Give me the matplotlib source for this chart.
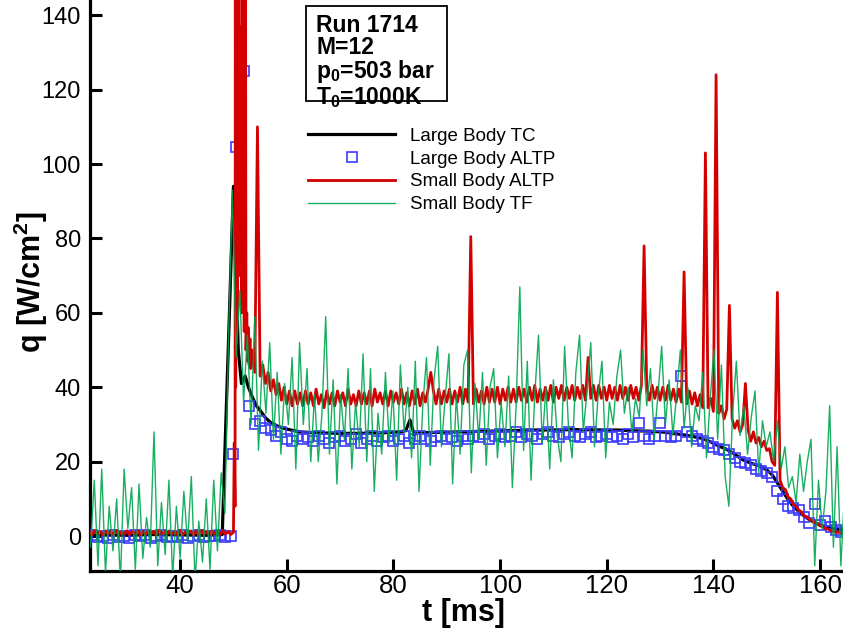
import numpy as np
import matplotlib
matplotlib.use("Agg")
import matplotlib.pyplot as plt
from matplotlib.patches import Rectangle

plt.rcParams['font.family'] = ['Liberation Sans', 'DejaVu Sans']
plt.rcParams['mathtext.fontset'] = 'custom'
plt.rcParams['mathtext.rm'] = 'Liberation Sans'
plt.rcParams['mathtext.bf'] = 'Liberation Sans:bold'
plt.rcParams['mathtext.it'] = 'Liberation Sans:italic'

# ---------------- data ----------------
labels = ["Large Body TC", "Large Body ALTP", "Small Body ALTP", "Small Body TF"]
info_lines = ["Run 1714", "M=12", r"p$_{\mathbf{0}}$=503 bar", r"T$_{\mathbf{0}}$=1000K"]
x_ticks = [40, 60, 80, 100, 120, 140, 160]
y_ticks = [0, 20, 40, 60, 80, 100, 120, 140]

# Large Body TC (time ms, q W/cm^2)
black_tc = [(23, 0.3), (30, 0.2), (35, 0.4), (40, 0.3), (45, 0.2), (47.9, 0.4), (48.4, 23),
            (49.2, 58), (50.0, 94), (50.3, 80), (50.9, 50), (51.5, 41), (52.2, 43), (52.8, 40),
            (53.5, 37.5), (54.3, 35), (55.0, 33.8), (56.0, 31.8), (57.0, 30.5), (58.2, 29.6),
            (59.3, 29), (60.8, 28.5), (62.5, 28), (65, 27.8), (67, 27.7), (70, 27.6), (73, 27.6),
            (76, 27.7), (79, 27.8), (81, 28), (82.3, 28.3), (83.1, 31.2), (83.9, 27.2), (84.6, 27.9),
            (86, 27.8), (89, 27.9), (92, 28), (95, 28.1), (98, 28.2), (101, 28.3), (104, 28.4),
            (107, 28.5), (110, 28.5), (113, 28.6), (116, 28.6), (119, 28.5), (122, 28.5), (125, 28.3),
            (128, 28.2), (131, 27.9), (134, 27.3), (136, 26.8), (138, 26.2), (139.5, 25.3), (141, 24.2),
            (142.5, 23.3), (144, 22), (145.5, 20.5), (147, 19.6), (148.5, 18.9), (150, 17.8),
            (151, 16.5), (152, 14.3), (153, 12), (154, 9.8), (155, 8), (156, 6.6), (157, 5.4),
            (158, 4.4), (159, 3.6), (160, 3.0), (161, 2.5), (162, 2.2), (163, 1.9), (164, 1.7),
            (165, 1.6)]

# Large Body ALTP (squares)
blue_t = np.concatenate([np.arange(23.5, 50.0, 1.0), [50.0, 50.4, 51.9, 53.0], np.arange(54.0, 164.5, 1.0)])
blue_q = [0.2, -0.3, 0.1, -0.5, 0.3, -0.2, 0.0, -0.4, 0.2, -0.1,
          0.3, -0.5, 0.0, 0.2, -0.3, 0.1, -0.2, 0.4, -0.4, 0.0,
          0.2, -0.3, 0.1, -0.1, 0.3, -0.2, 0.0,
          22, 104.6, 125, 35,
          30, 31, 29, 28.5, 27, 28, 26, 25.5, 27, 26,
          26.5, 25.5, 27, 26, 25, 26.5, 27, 25.5, 26, 27.5,
          25, 26, 27, 25.5, 26.5, 27, 25.5, 26, 27, 25,
          26, 27, 26, 25.5, 26.5, 27, 26, 26.5, 25.5, 27,
          26, 27, 26.5, 27.5, 26, 27, 27.5, 26.5, 27, 28,
          26.5, 27.5, 27, 26, 27.5, 28, 27, 26.5, 27.5, 28,
          27, 26.5, 27.5, 28, 26.5, 27, 27.5, 26.5, 27, 26,
          27.5, 26.5, 30.5, 27, 26, 27, 30.5, 27, 26.5, 27,
          43, 28, 27, 26, 25.5, 25, 24, 23.5, 23, 22,
          21, 20, 19.5, 19, 18, 17.5, 17, 16, 12, 10,
          8, 7.5, 7, 5, 3.5, 8.5, 3, 4, 2.5, 1.5, 1.2]

# Small Body ALTP
red_pre_t = np.arange(23.0, 50.01, 0.5)
red_pre_q = [1.3, 0.4, 1.5, 0.5, 1.2, 0.3, 1.4, 0.6, 1.3, 0.4,
             1.5, 0.3, 1.2, 0.5, 1.4, 0.4, 1.3, 0.6, 1.5, 0.3,
             1.2, 0.4, 1.4, 0.5, 1.3, 0.3, 1.5, 0.6, 1.2, 0.4,
             1.4, 0.5, 1.3, 0.3, 1.5, 0.4, 1.2, 0.6, 1.4, 0.3,
             1.3, 0.5, 1.5, 0.4, 1.2, 0.3, 1.4, 0.6, 1.3, 0.4,
             1.5, 0.5, 1.2, 0.4, 1.0]
red_burst = [(50.15, 25), (50.3, 8), (50.35, 150), (50.42, 40), (50.5, 155), (50.58, 55), (50.66, 160),
             (50.74, 60), (50.82, 160), (50.9, 75), (50.98, 160), (51.06, 90), (51.14, 137), (51.22, 70),
             (51.3, 137), (51.38, 80), (51.46, 137), (51.54, 60), (51.62, 160), (51.7, 80), (51.78, 160),
             (51.86, 60), (51.94, 160), (52.02, 55), (52.1, 160), (52.18, 55), (52.26, 150), (52.35, 50),
             (52.5, 60), (52.65, 47), (52.8, 56), (52.95, 46), (53.1, 53), (53.25, 45)]
red_post_t = np.arange(53.5, 165.01, 0.5)
red_post_q = [50, 44, 110, 43, 46, 41, 44, 39, 42, 38,
              41, 36.5, 40, 35.5, 39, 35, 39, 35.5, 38.5, 35,
              39, 35.5, 38.5, 35, 39.5, 35.5, 38, 34.5, 39, 35.5,
              38.5, 35, 39, 36, 38.5, 35, 39.5, 35.5, 38, 35,
              39, 35.5, 38.5, 35.5, 39, 35, 39.5, 36, 38.5, 35.5,
              39, 35, 39, 36, 38.5, 35.5, 39.5, 35.5, 38.5, 35,
              39, 35.5, 39.5, 35, 38.5, 36, 39.5, 44, 39, 35.5,
              39.5, 35.5, 39, 36, 39.5, 35.5, 39, 36, 40, 35.5,
              39.5, 36, 80.5, 35.5, 39.5, 36, 39, 35.5, 40, 36,
              39.5, 36, 40, 35.5, 39.5, 36.5, 40, 36, 39.5, 36,
              40, 36.5, 39.5, 36, 40, 36.5, 40.5, 36, 39.5, 36.5,
              40, 36.5, 40.5, 36, 40, 37, 40.5, 36.5, 40, 37,
              40.5, 36.5, 40, 37, 40.5, 36.5, 48, 37, 40.5, 36.5,
              40.5, 37, 40, 36.5, 40.5, 37, 40, 36.5, 40.5, 37,
              40, 36.5, 40.5, 37, 40, 36.5, 40.5, 78, 40, 36.5,
              40.5, 37, 40, 36.5, 40, 36.5, 40.5, 36.5, 39.5, 36,
              39.5, 36, 71, 35.5, 39, 35.5, 38.5, 35, 38, 34.5,
              103, 34.5, 37, 33.5, 124, 33, 35, 31.5, 34, 62,
              31.5, 29, 31, 28, 30, 41, 28.5, 25.5, 28, 25,
              26.5, 24, 25.5, 23, 23.5, 20, 19, 65.5, 15, 13,
              12.5, 10.5, 10, 8.5, 8, 7, 6.5, 5.5, 5.2, 4.5,
              4.2, 3.6, 3.3, 2.7, 2.5, 2.0, 1.9, 1.4, 1.4, 1.0,
              1.0, 0.7, 0.8, 0.6]

# Small Body TF
green_t = np.arange(23.2, 164.7, 0.7)
green_q = [-3, 15, -8, 18, -10, 8, -4, 10, -12, 18,
           2, 13, -9, 14, -6, 5, -3, 28, -8, 9,
           -5, 15, -11, 8, -6, 12, -2, 16, -12, 4,
           -7, 10, -9, 15, -4, 17, 6, 55, 93, 48,
           66, 36, 54, 30, 59, 23, 47, 33, 52, 26,
           44, 22, 41, 30, 48, 18, 52, 30, 45, 20,
           38, 20, 33, 59, 22, 42, 14, 38, 26, 45,
           18, 36, 24, 49, 20, 45, 12, 33, 22, 44,
           25, 39, 15, 46, 28, 40, 21, 47, 12, 35,
           48, 19, 42, 51, 24, 37, 49, 14, 38, 22,
           46, 50, 17, 41, 26, 44, 19, 40, 45, 21,
           36, 24, 43, 13, 35, 67, 23, 47, 15, 38,
           54, 25, 40, 18, 42, 27, 20, 51, 30, 21,
           44, 54, 28, 39, 52, 24, 38, 47, 21, 36,
           30, 43, 50, 33, 40, 28, 37, 32, 50, 35,
           45, 26, 38, 51, 30, 42, 27, 38, 50, 29,
           40, 24, 35, 31, 44, 21, 37, 50, 26, 46,
           16, 8, 33, 47, 27, 35, 22, 32, 39, 17,
           31, 24, 28, 20, 31, 18, 24, 13, 16, 9,
           22, 12, 20, 26, -8, 15, 2, 12, 35, -3,
           24, -8, 12]

# ---------------- figure ----------------
W, H = 843, 636
fig = plt.figure(figsize=(W / 100, H / 100), dpi=100)
ax = fig.add_axes([90 / W, 65 / H, (W - 90) / W, 571 / H])

bt, bq = zip(*black_tc)
l1, = ax.plot(bt, bq, color='black', lw=2.3, zorder=2, label=labels[0])
l2, = ax.plot(blue_t, blue_q, ls='none', marker='s', ms=7.6, mfc='none', mec='#3a3aff',
              mew=1.2, zorder=3, label=labels[1])
rbt, rbq = zip(*red_burst)
red_t = np.concatenate([red_pre_t, rbt, red_post_t])
red_q = np.concatenate([red_pre_q, rbq, red_post_q])
l3, = ax.plot(red_t, red_q, color='#d40000', lw=2.0, zorder=4, label=labels[2])
l4, = ax.plot(green_t, green_q, color='#00a651', lw=1.0, alpha=0.9, zorder=5, label=labels[3])

ax.set_xlim(23.1, 164.3)
ax.set_ylim(-9.4, 144.1)
ax.set_xticks(x_ticks)
ax.set_yticks(y_ticks)
ax.spines['top'].set_visible(False)
ax.spines['right'].set_visible(False)
for s in ('left', 'bottom'):
    ax.spines[s].set_linewidth(2.3)
ax.tick_params(axis='both', direction='in', length=8.5, width=2.2)
ax.tick_params(axis='x', labelsize=18.5, pad=2.5)
ax.tick_params(axis='y', labelsize=17, pad=6.5)

fig.text(464 / W, 1 - 613 / H, 't [ms]', fontsize=22, fontweight='bold', ha='center', va='center')
fig.text(31 / W, 1 - 282 / H, r'q [W/cm$^{\mathbf{2}}$]', fontsize=22, fontweight='bold',
         rotation=90, ha='center', va='center')

# info box
fig.add_artist(Rectangle((306 / W, 1 - 101 / H), (447 - 306) / W, (101 - 6) / H,
                         transform=fig.transFigure, fill=False, lw=1.3, ec='black'))
fig.text(316 / W, 1 - 13.5 / H, "\n".join(info_lines), fontsize=16.5, fontweight='bold',
         va='top', ha='left', linespacing=0.97)

fig.legend(handles=[l1, l2, l3, l4], loc='upper left', bbox_to_anchor=(308 / W, 1 - 127.5 / H),
           frameon=False, fontsize=13.5, handlelength=4.64, handletextpad=0.8, labelspacing=0.31,
           borderpad=0, borderaxespad=0, numpoints=1)

fig.savefig('out.png', dpi=100)
